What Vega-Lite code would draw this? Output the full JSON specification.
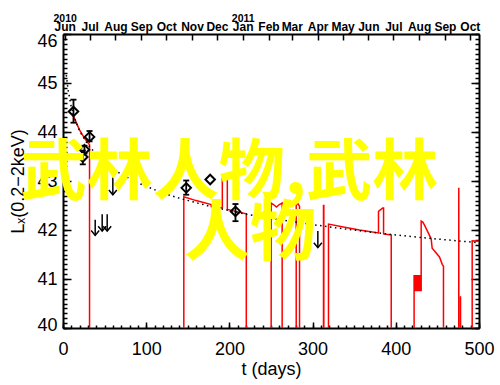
{
  "$schema": "https://vega.github.io/schema/vega-lite/v6.json",
  "autosize": "none",
  "width": 416,
  "height": 294,
  "padding": {"left": 63, "top": 34, "right": 21, "bottom": 57},
  "background": "white",
  "datasets": {
    "red": [
      {"i": 1, "t": 11, "v": 44.38}, {"i": 2, "t": 14, "v": 44.27}, {"i": 3, "t": 17, "v": 44.15}, {"i": 4, "t": 20, "v": 44.04},
      {"i": 5, "t": 23, "v": 43.95}, {"i": 6, "t": 26, "v": 43.87}, {"i": 7, "t": 29, "v": 43.8}, {"i": 8, "t": 31.9, "v": 43.74},
      {"i": 9, "t": 31.9, "v": 39},
      {"i": 10, "t": 145.2, "v": 39}, {"i": 11, "t": 145.2, "v": 42.68}, {"i": 12, "t": 160, "v": 42.6}, {"i": 13, "t": 178, "v": 42.52},
      {"i": 14, "t": 178.2, "v": 42.48}, {"i": 15, "t": 191.5, "v": 42.45}, {"i": 16, "t": 191.5, "v": 43.05}, {"i": 17, "t": 197.5, "v": 43.05},
      {"i": 18, "t": 197.5, "v": 42.42}, {"i": 19, "t": 210, "v": 42.37}, {"i": 20, "t": 220.3, "v": 42.33}, {"i": 21, "t": 220.3, "v": 39},
      {"i": 22, "t": 250.2, "v": 39}, {"i": 23, "t": 250.2, "v": 42.55}, {"i": 24, "t": 253, "v": 42.52}, {"i": 25, "t": 256.5, "v": 42.47},
      {"i": 26, "t": 260, "v": 42.52}, {"i": 27, "t": 263.4, "v": 42.55}, {"i": 28, "t": 263.4, "v": 39},
      {"i": 29, "t": 280.3, "v": 39}, {"i": 30, "t": 280.3, "v": 42.5}, {"i": 31, "t": 282, "v": 42.55}, {"i": 32, "t": 284.3, "v": 42.48},
      {"i": 33, "t": 284.3, "v": 39},
      {"i": 34, "t": 313.1, "v": 39}, {"i": 35, "t": 313.1, "v": 42.5}, {"i": 36, "t": 313.5, "v": 42.5}, {"i": 37, "t": 313.5, "v": 39},
      {"i": 38, "t": 319.1, "v": 39}, {"i": 39, "t": 319.1, "v": 42.12}, {"i": 40, "t": 340, "v": 42.05}, {"i": 41, "t": 356.3, "v": 42.0},
      {"i": 42, "t": 379.2, "v": 41.94}, {"i": 43, "t": 379.2, "v": 42.38}, {"i": 44, "t": 384.3, "v": 42.45}, {"i": 45, "t": 385.3, "v": 42.45},
      {"i": 46, "t": 385.3, "v": 41.92}, {"i": 47, "t": 394.5, "v": 41.9}, {"i": 48, "t": 394.5, "v": 39},
      {"i": 49, "t": 422, "v": 39}, {"i": 50, "t": 422, "v": 41.08}, {"i": 51, "t": 422.8, "v": 40.75}, {"i": 52, "t": 423.6, "v": 41.08},
      {"i": 53, "t": 424.4, "v": 40.75}, {"i": 54, "t": 425.2, "v": 41.08}, {"i": 55, "t": 426, "v": 40.75}, {"i": 56, "t": 426.8, "v": 41.08},
      {"i": 57, "t": 427.6, "v": 40.75}, {"i": 58, "t": 428.4, "v": 41.08}, {"i": 59, "t": 429.2, "v": 40.75}, {"i": 60, "t": 430, "v": 41.08},
      {"i": 61, "t": 430.5, "v": 40.75}, {"i": 62, "t": 430.5, "v": 42.18}, {"i": 63, "t": 432.5, "v": 42.16}, {"i": 64, "t": 434.5, "v": 42.1},
      {"i": 65, "t": 442.5, "v": 41.82}, {"i": 66, "t": 443.7, "v": 41.63}, {"i": 67, "t": 452.5, "v": 41.45}, {"i": 68, "t": 455.8, "v": 41.3},
      {"i": 69, "t": 457.3, "v": 41.26}, {"i": 70, "t": 457.3, "v": 39},
      {"i": 71, "t": 475.6, "v": 39}, {"i": 72, "t": 475.7, "v": 42.86}, {"i": 73, "t": 475.8, "v": 39}, {"i": 74, "t": 477.7, "v": 39},
      {"i": 75, "t": 477.8, "v": 40.65}, {"i": 76, "t": 477.9, "v": 39},
      {"i": 77, "t": 491.8, "v": 39}, {"i": 78, "t": 491.8, "v": 41.78}, {"i": 79, "t": 500, "v": 41.77}
    ],
    "curve": [
      {"t": 4, "v": 45.16}, {"t": 6, "v": 44.87}, {"t": 10, "v": 44.51}, {"t": 15, "v": 44.23}, {"t": 20, "v": 44.02},
      {"t": 30, "v": 43.74}, {"t": 45, "v": 43.45}, {"t": 64, "v": 43.2}, {"t": 90, "v": 42.96}, {"t": 122, "v": 42.74},
      {"t": 144, "v": 42.63}, {"t": 175, "v": 42.49}, {"t": 204, "v": 42.38}, {"t": 224, "v": 42.31}, {"t": 260, "v": 42.21},
      {"t": 296, "v": 42.12}, {"t": 330, "v": 42.04}, {"t": 368, "v": 41.96}, {"t": 400, "v": 41.9}, {"t": 428, "v": 41.85},
      {"t": 460, "v": 41.8}, {"t": 500, "v": 41.74}
    ],
    "det": [
      {"t": 12.6, "v": 44.42, "lo": 44.19, "hi": 44.66},
      {"t": 31.9, "v": 43.9, "lo": 43.81, "hi": 44.02},
      {"t": 25.8, "v": 43.64, "lo": 43.56, "hi": 43.72},
      {"t": 23.8, "v": 43.49, "lo": 43.34, "hi": 43.62},
      {"t": 148.1, "v": 42.86, "lo": 42.72, "hi": 43.01},
      {"t": 176.9, "v": 43.03, "lo": null, "hi": null},
      {"t": 207.3, "v": 42.38, "lo": 42.18, "hi": 42.53}
    ],
    "ul": [
      {"t": 38.7, "top": 42.21, "tip": 41.89},
      {"t": 47.1, "top": 42.32, "tip": 41.98},
      {"t": 53.1, "top": 42.32, "tip": 41.98},
      {"t": 59.9, "top": 43.07, "tip": 42.72},
      {"t": 306.3, "top": 41.98, "tip": 41.64}
    ],
    "wm": [
      {"t": 200, "v": 43.15, "label": "武林人物,武林"},
      {"t": 224.7, "v": 41.9, "label": "人物"}
    ]
  },
  "resolve": {"axis": {"x": "independent", "y": "independent"}},
  "layer": [
    {
      "data": {"name": "red"},
      "mark": {"type": "line", "color": "#ff0000", "strokeWidth": 1.5, "clip": true},
      "encoding": {
        "x": {"field": "t", "type": "quantitative", "scale": {"domain": [0, 500], "nice": false, "zero": false},
          "axis": {"orient": "bottom", "values": [0, 100, 200, 300, 400, 500], "tickSize": -6, "labelPadding": 18, "labelFontSize": 18,
            "labelFlush": false, "labelOverlap": false, "title": "t (days)", "titleFontSize": 18, "titlePadding": 2}},
        "y": {"field": "v", "type": "quantitative", "scale": {"domain": [40, 46], "nice": false, "zero": false},
          "axis": {"orient": "left", "values": [40, 41, 42, 43, 44, 45, 46], "tickSize": -8, "labelPadding": 14, "labelFontSize": 18,
            "labelFlush": false, "labelOverlap": false,
            "labelOffset": {"condition": [{"test": "datum.value == 46", "value": 7}, {"test": "datum.value == 40", "value": -3}], "value": 0},
            "title": "Lₓ(0.2−2keV)", "titleFontSize": 18, "titlePadding": 9}},
        "order": {"field": "i", "type": "quantitative"}
      }
    },
    {
      "data": {"name": "curve"},
      "mark": {"type": "line", "color": "black", "strokeWidth": 1.5, "strokeDash": [1.5, 3.5]},
      "encoding": {
        "x": {"field": "t", "type": "quantitative", "scale": {"domain": [0, 500], "nice": false, "zero": false},
          "axis": {"orient": "bottom", "values": [0,10,20,30,40,50,60,70,80,90,100,110,120,130,140,150,160,170,180,190,200,210,220,230,240,250,260,270,280,290,300,310,320,330,340,350,360,370,380,390,400,410,420,430,440,450,460,470,480,490,500],
            "tickSize": -3, "labels": false, "domain": false, "title": null}},
        "y": {"field": "v", "type": "quantitative", "scale": {"domain": [40, 46], "nice": false, "zero": false},
          "axis": {"orient": "left", "values": [40,40.1,40.2,40.3,40.4,40.5,40.6,40.7,40.8,40.9,41,41.1,41.2,41.3,41.4,41.5,41.6,41.7,41.8,41.9,42,42.1,42.2,42.3,42.4,42.5,42.6,42.7,42.8,42.9,43,43.1,43.2,43.3,43.4,43.5,43.6,43.7,43.8,43.9,44,44.1,44.2,44.3,44.4,44.5,44.6,44.7,44.8,44.9,45,45.1,45.2,45.3,45.4,45.5,45.6,45.7,45.8,45.9,46],
            "tickSize": -4, "labels": false, "domain": false, "title": null}}
      }
    },
    {
      "data": {"name": "det"},
      "mark": {"type": "rule", "color": "black", "strokeWidth": 1.8},
      "encoding": {
        "x": {"field": "t", "type": "quantitative", "scale": {"domain": [0, 500], "nice": false, "zero": false},
          "axis": {"orient": "top", "values": [2,32,63,94,124,155,185,216,247,275,306,336,367,397,428,459,489], "tickSize": -6,
            "labelPadding": 7, "labelFontSize": 12, "labelFontWeight": "bold", "labelFlush": false, "labelOverlap": false,
            "labelExpr": "['Jun','Jul','Aug','Sep','Oct','Nov','Dec','Jan','Feb','Mar','Apr','May','Jun','Jul','Aug','Sep','Oct'][indexof([2,32,63,94,124,155,185,216,247,275,306,336,367,397,428,459,489], datum.value)]",
            "title": null}},
        "y": {"field": "lo", "type": "quantitative", "scale": {"domain": [40, 46], "nice": false, "zero": false},
          "axis": {"orient": "right", "values": [40, 41, 42, 43, 44, 45, 46], "tickSize": -8, "labels": false, "title": null}},
        "y2": {"field": "hi"}
      }
    },
    {
      "data": {"name": "det"},
      "mark": {"type": "point", "shape": "M-1,0L1,0", "size": 36, "filled": false, "color": "black", "strokeWidth": 1.8, "opacity": 1},
      "encoding": {
        "x": {"field": "t", "type": "quantitative", "scale": {"domain": [0, 500], "nice": false, "zero": false},
          "axis": {"orient": "top", "values": [2, 216], "ticks": false, "domain": false, "labelPadding": 11, "labelFontSize": 10.5,
            "labelFontWeight": "bold", "labelFlush": false, "labelOverlap": false,
            "labelExpr": "datum.value < 100 ? '2010' : '2011'", "title": null}},
        "y": {"field": "lo", "type": "quantitative", "scale": {"domain": [40, 46], "nice": false, "zero": false},
          "axis": {"orient": "right", "values": [40,40.1,40.2,40.3,40.4,40.5,40.6,40.7,40.8,40.9,41,41.1,41.2,41.3,41.4,41.5,41.6,41.7,41.8,41.9,42,42.1,42.2,42.3,42.4,42.5,42.6,42.7,42.8,42.9,43,43.1,43.2,43.3,43.4,43.5,43.6,43.7,43.8,43.9,44,44.1,44.2,44.3,44.4,44.5,44.6,44.7,44.8,44.9,45,45.1,45.2,45.3,45.4,45.5,45.6,45.7,45.8,45.9,46],
            "tickSize": -4, "labels": false, "domain": false, "title": null}}
      }
    },
    {
      "data": {"name": "det"},
      "mark": {"type": "point", "shape": "M-1,0L1,0", "size": 36, "filled": false, "color": "black", "strokeWidth": 1.8, "opacity": 1},
      "encoding": {
        "x": {"field": "t", "type": "quantitative", "axis": null},
        "y": {"field": "hi", "type": "quantitative", "axis": null}
      }
    },
    {
      "data": {"name": "det"},
      "mark": {"type": "point", "shape": "diamond", "size": 90, "filled": false, "color": "black", "strokeWidth": 2, "opacity": 1},
      "encoding": {
        "x": {"field": "t", "type": "quantitative", "axis": null},
        "y": {"field": "v", "type": "quantitative", "axis": null}
      }
    },
    {
      "data": {"name": "ul"},
      "mark": {"type": "rule", "color": "black", "strokeWidth": 1.5},
      "encoding": {
        "x": {"field": "t", "type": "quantitative", "axis": null},
        "y": {"field": "top", "type": "quantitative", "axis": null},
        "y2": {"field": "tip"}
      }
    },
    {
      "data": {"name": "ul"},
      "mark": {"type": "point", "shape": "M-1,-1.2L0,0L1,-1.2", "size": 64, "filled": false, "color": "black", "strokeWidth": 1.5, "opacity": 1},
      "encoding": {
        "x": {"field": "t", "type": "quantitative", "axis": null},
        "y": {"field": "tip", "type": "quantitative", "axis": null}
      }
    },
    {
      "data": {"name": "wm"},
      "mark": {"type": "text", "font": "Noto Sans CJK SC", "fontSize": 66, "fontWeight": "bold", "color": "#ffff00", "align": "center", "baseline": "middle"},
      "encoding": {
        "x": {"field": "t", "type": "quantitative", "axis": null},
        "y": {"field": "v", "type": "quantitative", "axis": null},
        "text": {"field": "label"}
      }
    }
  ],
  "config": {
    "view": {"stroke": null},
    "axis": {"grid": false, "domainColor": "black", "tickColor": "black", "labelColor": "black", "titleColor": "black",
      "labelFont": "Liberation Sans", "titleFont": "Liberation Sans", "titleFontWeight": "normal",
      "domainWidth": 2, "tickWidth": 1.5}
  }
}
